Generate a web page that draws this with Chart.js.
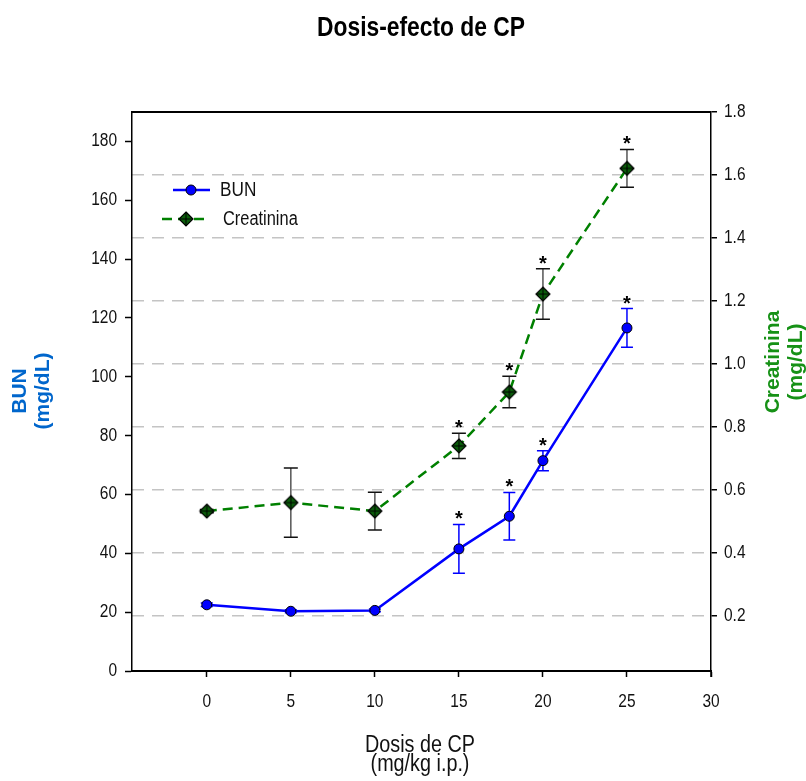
<!DOCTYPE html>
<html lang="es">
<head>
  <meta charset="UTF-8" />
  <title>Dosis-efecto de CP</title>
  <script src="https://cdn.jsdelivr.net/npm/chart.js"></script>
  <style>
    body {
      margin: 0;
      padding: 0;
      background: #ffffff;
      overflow: hidden;
    }
    #wrap {
      width: 806px;
      height: 781px;
    }
  </style>
</head>
<body>
  <div id="wrap"><canvas id="doseChart" width="806" height="781"></canvas></div>

  <script>
    // dose groups (mg/kg i.p.)
    const doses = [0, 5, 10, 15, 18, 20, 25];

    // BUN (mg/dL): mean and error
    const bunMean = [22.5, 20.3, 20.6, 41.5, 52.6, 71.5, 116.6];
    const bunErr = [0.6, 0.5, 0.5, 8.3, 8.1, 3.4, 6.6];
    const bunSig = [false, false, false, true, true, true, true];

    // Creatinina (mg/dL): mean and error
    const creatMean = [0.533, 0.56, 0.533, 0.74, 0.911, 1.222, 1.621];
    const creatErr = [0.005, 0.11, 0.06, 0.04, 0.05, 0.08, 0.06];
    const creatSig = [false, false, false, true, true, true, true];

    const xTicks = [0, 5, 10, 15, 20, 25, 30];
    const bunTicks = [0, 20, 40, 60, 80, 100, 120, 140, 160, 180];
    const creatTicks = [0.2, 0.4, 0.6, 0.8, 1.0, 1.2, 1.4, 1.6, 1.8];

    const FONT = "'Liberation Sans', Arial, sans-serif";
    // the text in this figure is set in a narrow face; squeeze Liberation Sans to match
    const NARROW_X = 0.86;

    const BLUE = '#0000ff';
    const GREEN = '#008000';
    const DIAMOND_FILL = '#0b5e0b';
    const INK = '#111111';

    // diamond marker with a cross inside
    function makeDiamond(half) {
      const c = document.createElement('canvas');
      const s = half * 2 + 4;
      c.width = s;
      c.height = s;
      const g = c.getContext('2d');
      const m = s / 2;
      g.beginPath();
      g.moveTo(m, m - half);
      g.lineTo(m + half, m);
      g.lineTo(m, m + half);
      g.lineTo(m - half, m);
      g.closePath();
      g.fillStyle = DIAMOND_FILL;
      g.fill();
      g.lineWidth = 1.2;
      g.strokeStyle = '#000';
      g.stroke();
      g.beginPath();
      g.moveTo(m, m - half + 1);
      g.lineTo(m, m + half - 1);
      g.moveTo(m - half + 1, m);
      g.lineTo(m + half - 1, m);
      g.lineWidth = 1;
      g.stroke();
      return c;
    }
    const diamond = makeDiamond(7);

    function toPoints(means) {
      return doses.map((d, i) => ({ x: d, y: means[i] }));
    }

    // text squeezed horizontally by sx
    function narrowText(ctx, text, x, y, font, color, align, baseline, sx) {
      ctx.save();
      ctx.translate(x, y);
      ctx.scale(sx, 1);
      ctx.font = font;
      ctx.fillStyle = color;
      ctx.textAlign = align;
      ctx.textBaseline = baseline;
      ctx.fillText(text, 0, 0);
      ctx.restore();
    }

    function rotatedText(ctx, text, x, y, font, color) {
      ctx.save();
      ctx.translate(x, y);
      ctx.rotate(-Math.PI / 2);
      ctx.font = font;
      ctx.fillStyle = color;
      ctx.textAlign = 'center';
      ctx.textBaseline = 'middle';
      ctx.fillText(text, 0, 0);
      ctx.restore();
    }

    function drawErrorBars(ctx, xs, ys, means, errs, color, capColor, capHalf) {
      ctx.save();
      ctx.lineWidth = 1.5;
      doses.forEach((d, i) => {
        const x = xs.getPixelForValue(d);
        const top = ys.getPixelForValue(means[i] + errs[i]);
        const bot = ys.getPixelForValue(means[i] - errs[i]);
        ctx.strokeStyle = color;
        ctx.beginPath();
        ctx.moveTo(x, top);
        ctx.lineTo(x, bot);
        ctx.stroke();
        ctx.strokeStyle = capColor;
        ctx.beginPath();
        ctx.moveTo(x - capHalf, top);
        ctx.lineTo(x + capHalf, top);
        ctx.moveTo(x - capHalf, bot);
        ctx.lineTo(x + capHalf, bot);
        ctx.stroke();
      });
      ctx.restore();
    }

    function drawStars(ctx, xs, ys, means, errs, sig) {
      doses.forEach((d, i) => {
        if (!sig[i]) return;
        const x = xs.getPixelForValue(d);
        const top = ys.getPixelForValue(means[i] + errs[i]);
        narrowText(ctx, '*', x, top + 1, 'bold 20px ' + FONT, '#000', 'center', 'alphabetic', 1);
      });
    }

    const decor = {
      id: 'decor',
      beforeDatasetsDraw(chart) {
        const { ctx, scales } = chart;
        drawErrorBars(ctx, scales.x, scales.yCreat, creatMean, creatErr, '#555555', '#111111', 7);
        drawErrorBars(ctx, scales.x, scales.yBun, bunMean, bunErr, BLUE, BLUE, 6);
      },
      afterDatasetsDraw(chart) {
        const { ctx, scales, chartArea: a } = chart;
        drawStars(ctx, scales.x, scales.yBun, bunMean, bunErr, bunSig);
        drawStars(ctx, scales.x, scales.yCreat, creatMean, creatErr, creatSig);

        // frame top edge
        ctx.save();
        ctx.strokeStyle = '#000';
        ctx.lineWidth = 2;
        ctx.beginPath();
        ctx.moveTo(a.left, a.top);
        ctx.lineTo(a.right, a.top);
        ctx.stroke();
        // right axis runs a little past the bottom edge
        ctx.lineWidth = 1.5;
        ctx.beginPath();
        ctx.moveTo(a.right, a.bottom);
        ctx.lineTo(a.right, a.bottom + 6);
        ctx.stroke();
        ctx.restore();

        // legend
        ctx.save();
        const ly1 = a.top + 78;
        const ly2 = a.top + 107;
        ctx.lineWidth = 2.5;
        ctx.strokeStyle = BLUE;
        ctx.beginPath();
        ctx.moveTo(a.left + 41, ly1);
        ctx.lineTo(a.left + 78, ly1);
        ctx.stroke();
        ctx.beginPath();
        ctx.arc(a.left + 59, ly1, 5, 0, Math.PI * 2);
        ctx.fillStyle = BLUE;
        ctx.fill();
        ctx.lineWidth = 1;
        ctx.strokeStyle = '#000';
        ctx.stroke();

        ctx.lineWidth = 2.5;
        ctx.strokeStyle = GREEN;
        ctx.setLineDash([10, 6]);
        ctx.beginPath();
        ctx.moveTo(a.left + 30, ly2);
        ctx.lineTo(a.left + 73, ly2);
        ctx.stroke();
        ctx.setLineDash([]);
        ctx.drawImage(diamond, a.left + 54 - diamond.width / 2, ly2 - diamond.height / 2);
        ctx.restore();

        narrowText(ctx, 'BUN', a.left + 88, ly1, '20px ' + FONT, INK, 'left', 'middle', NARROW_X);
        narrowText(ctx, 'Creatinina', a.left + 91, ly2, '20px ' + FONT, INK, 'left', 'middle', 0.82);
      },
      afterDraw(chart) {
        const { ctx, scales } = chart;
        const tickFont = '18px ' + FONT;

        // tick labels
        scales.x.ticks.forEach(t => {
          narrowText(ctx, String(t.value), scales.x.getPixelForValue(t.value), 706.5, tickFont, INK, 'center', 'alphabetic', NARROW_X);
        });
        scales.yBun.ticks.forEach(t => {
          narrowText(ctx, String(t.value), 117, scales.yBun.getPixelForValue(t.value), tickFont, INK, 'right', 'middle', NARROW_X);
        });
        scales.yCreat.ticks.forEach(t => {
          narrowText(ctx, t.value.toFixed(1), 724, scales.yCreat.getPixelForValue(t.value), tickFont, INK, 'left', 'middle', NARROW_X);
        });

        // chart title and x axis title
        narrowText(ctx, 'Dosis-efecto de CP', 421, 35.5, 'bold 28px ' + FONT, '#000', 'center', 'alphabetic', 0.815);
        narrowText(ctx, 'Dosis de CP', 420, 752, '23px ' + FONT, INK, 'center', 'alphabetic', 0.86);
        narrowText(ctx, '(mg/kg i.p.)', 420, 771, '23px ' + FONT, INK, 'center', 'alphabetic', 0.86);

        // y axis titles
        const titleFont = 'bold 21px ' + FONT;
        rotatedText(ctx, 'BUN', 20, 391, titleFont, '#0066cc');
        rotatedText(ctx, '(mg/dL)', 43, 391, titleFont, '#0066cc');
        rotatedText(ctx, 'Creatinina', 773, 362, titleFont, '#169116');
        rotatedText(ctx, '(mg/dL)', 796, 362, titleFont, '#169116');
      }
    };

    const chart = new Chart(document.getElementById('doseChart').getContext('2d'), {
      type: 'line',
      data: {
        datasets: [
          {
            label: 'Creatinina',
            data: toPoints(creatMean),
            yAxisID: 'yCreat',
            borderColor: GREEN,
            borderWidth: 2.5,
            borderDash: [10, 6],
            pointStyle: diamond,
            pointRadius: 7,
            tension: 0
          },
          {
            label: 'BUN',
            data: toPoints(bunMean),
            yAxisID: 'yBun',
            borderColor: BLUE,
            borderWidth: 2.5,
            pointStyle: 'circle',
            pointRadius: 5,
            pointBackgroundColor: BLUE,
            pointBorderColor: '#000',
            pointBorderWidth: 1,
            tension: 0
          }
        ]
      },
      options: {
        responsive: false,
        animation: false,
        layout: { padding: { top: 112, left: 0, right: 0, bottom: 0 } },
        plugins: {
          legend: { display: false },
          tooltip: { enabled: false },
          title: { display: false }
        },
        scales: {
          x: {
            type: 'linear',
            min: -4.45,
            max: 30,
            afterBuildTicks: s => { s.ticks = xTicks.map(v => ({ value: v })); },
            afterFit: s => { s.height = 110; },
            grid: { drawOnChartArea: false, tickLength: 6, tickColor: '#000', tickWidth: 1.5, tickBorderDash: [] },
            border: { color: '#000', width: 2 },
            ticks: { display: false }
          },
          yBun: {
            type: 'linear',
            position: 'left',
            min: 0,
            max: 190,
            afterBuildTicks: s => { s.ticks = bunTicks.map(v => ({ value: v })); },
            afterFit: s => { s.width = 132; },
            grid: { drawOnChartArea: false, tickLength: 7, tickColor: '#000', tickWidth: 1.5, tickBorderDash: [] },
            border: { color: '#000', width: 1.5 },
            ticks: { display: false }
          },
          yCreat: {
            type: 'linear',
            position: 'right',
            min: 0.0254,
            max: 1.8,
            afterBuildTicks: s => { s.ticks = creatTicks.map(v => ({ value: v })); },
            afterFit: s => { s.width = 95; },
            grid: {
              drawOnChartArea: true,
              color: '#c4c4c4',
              lineWidth: 1.5,
              tickLength: 6,
              tickColor: '#000',
              tickWidth: 1.5,
              tickBorderDash: []
            },
            border: { color: '#000', width: 1.5, dash: [12, 8] },
            ticks: { display: false }
          }
        }
      },
      plugins: [decor]
    });
  </script>
</body>
</html>
